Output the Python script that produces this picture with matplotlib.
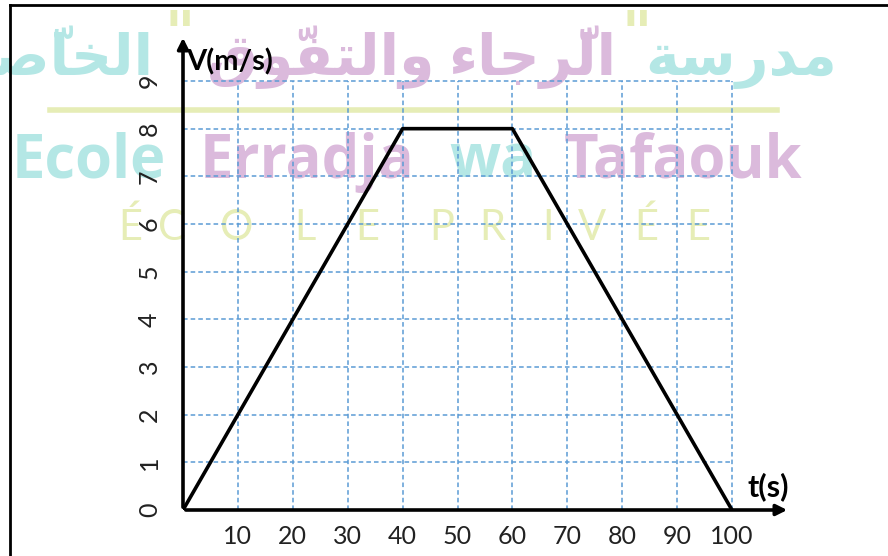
import matplotlib
matplotlib.use('Agg')
import matplotlib.pyplot as plt
from matplotlib.lines import Line2D

# velocity-time data
t = [0, 40, 60, 100]
v = [0, 8, 8, 0]
x_ticks = [10, 20, 30, 40, 50, 60, 70, 80, 90, 100]
y_ticks = [0, 1, 2, 3, 4, 5, 6, 7, 8, 9]

# watermark pieces (Arabic written as presentation forms, left-to-right visual order)
ar_words = [
    '\uFE94\uFEBB\u0651\uFE8E\uFEA8\uFEDF\uFE8D',        # الخاصّة
    '\uFED5\uFEEE\u0651\uFED4\uFE98\uFEDF\uFE8D\uFEED',  # والتفوّق
    '\uFE80\uFE8E\uFE9F\uFEAE\u0651\uFEDF\uFE8D',        # الرّجاء
    '\uFE94\uFEB3\uFEAD\uFEAA\uFEE3',                    # مدرسة
]
latin_words = ['Ecole', 'Erradja', 'wa', 'Tafaouk']
sub_letters = list('ÉCOLEPRIVÉE')

W, H = 888, 556
TEAL = '#b4e7e5'
PINK = '#dbbadc'
LIME = '#e6edb6'
GRID = '#5b9bd5'


def fx(px):
    return px / W


def fy(py):
    return 1 - py / H


fig = plt.figure(figsize=(W / 100, H / 100), dpi=100)
fig.patch.set_facecolor('white')

# page border (top and left only are visible)
fig.add_artist(Line2D([fx(10), 1], [fy(5), fy(5)], color='k', lw=2))
fig.add_artist(Line2D([fx(10), fx(10)], [fy(5), 0], color='k', lw=2))

# ---- watermark, behind the chart ----
ar_cols = [TEAL, PINK, PINK, TEAL]
ar_right = [153, 434, 617, 837]
for w, c, x in zip(ar_words, ar_cols, ar_right):
    fig.text(fx(x), fy(75), w, color=c, fontsize=41, family='DejaVu Sans',
             weight='bold', ha='right', va='baseline', zorder=-2)
for x in [180, 637]:
    fig.text(fx(x), fy(36), '"', color=LIME, fontsize=42, family='DejaVu Sans',
             weight='bold', ha='center', va='center', zorder=-2)

fig.add_artist(Line2D([fx(50), fx(777)], [fy(110), fy(110)], color=LIME,
                      lw=4, zorder=-2))

lat_cols = [TEAL, PINK, TEAL, PINK]
lat_x = [12, 200, 449, 564]
for w, c, x in zip(latin_words, lat_cols, lat_x):
    fig.text(fx(x), fy(178), w, color=c, fontsize=43, family='Open Sans',
             weight='bold', ha='left', va='baseline', zorder=-2)

sub_x = [130, 172, 237, 305, 367, 442, 492, 548, 592, 646, 698]
for ch, x in zip(sub_letters, sub_x):
    fig.text(fx(x), fy(240), ch, color=LIME, fontsize=30, family='Lato',
             ha='center', va='baseline', zorder=-2)

# ---- chart ----
ax = fig.add_axes([fx(183), fy(510), fx(790) - fx(183), fy(35) - fy(510)])
ax.patch.set_visible(False)
ax.set_xlim(0, 100 * (790 - 183) / (732 - 183))
ax.set_ylim(0, 9 * (510 - 35) / (510 - 81))
for s in ax.spines.values():
    s.set_visible(False)

ax.vlines(x_ticks, 0, y_ticks[-1], colors=GRID, linestyles=(0, (3, 2)), lw=1.1)
ax.hlines(y_ticks[1:], 0, x_ticks[-1], colors=GRID, linestyles=(0, (3, 2)), lw=1.1)

ax.plot(t, v, color='k', lw=2.6, solid_capstyle='butt', zorder=5)

arrow = dict(arrowstyle='-|>', color='k', lw=2.6, mutation_scale=16)
ax.annotate('', xy=(ax.get_xlim()[1], 0), xytext=(0, 0), arrowprops=arrow,
            annotation_clip=False, zorder=6)
ax.annotate('', xy=(0, ax.get_ylim()[1]), xytext=(0, 0), arrowprops=arrow,
            annotation_clip=False, zorder=6)

ax.set_xticks(x_ticks)
ax.set_xticklabels([str(x) for x in x_ticks], family='Lato', fontsize=18,
                   color='#222222')
ax.set_yticks(y_ticks)
ax.set_yticklabels([str(y) for y in y_ticks], family='Lato', fontsize=18,
                   color='#222222', rotation=90, va='center')
ax.tick_params(axis='x', length=0, pad=11)
ax.tick_params(axis='y', length=0, pad=16)

fig.text(fx(186), fy(62), 'V(m/s)', family='Lato', weight='bold', fontsize=21,
         ha='left', va='center')
fig.text(fx(768), fy(487), 't(s)', family='Lato', weight='bold', fontsize=22,
         ha='center', va='center')

fig.savefig('out.png', dpi=100)
